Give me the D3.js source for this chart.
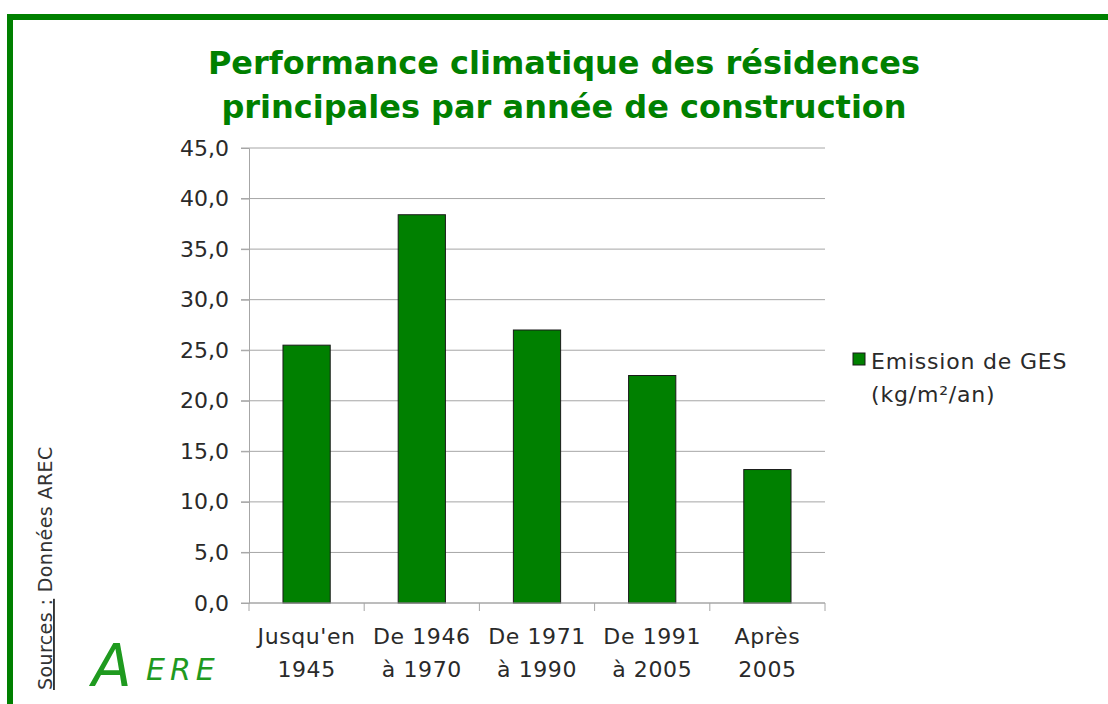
<!DOCTYPE html>
<html>
<head>
<meta charset="utf-8">
<script src="https://cdn.jsdelivr.net/npm/d3@7"></script>
<style>
  body { margin: 0; background: #fff; }
  text { font-family: "DejaVu Sans", sans-serif; }
</style>
</head>
<body>
<script>
// Chart data
var categories = ["Jusqu'en 1945", "De 1946 à 1970", "De 1971 à 1990", "De 1991 à 2005", "Après 2005"];
var catLines = [["Jusqu'en", "1945"], ["De 1946", "à 1970"], ["De 1971", "à 1990"], ["De 1991", "à 2005"], ["Après", "2005"]];
var emissions = [25.5, 38.4, 27.0, 22.5, 13.2];
var yTicks = [0, 5, 10, 15, 20, 25, 30, 35, 40, 45];
var titleLines = ["Performance climatique des résidences", "principales par année de construction"];
var legendLines = ["Emission de GES", "(kg/m²/an)"];

var width = 1108,
    height = 704;
var margin = {left: 249, right: 283, top: 148, bottom: 101};
var green = "#008000";
var ink = "#2a2a2a";

var svg = d3.select("body").append("svg")
    .attr("width", width)
    .attr("height", height);

// Green frame
svg.append("rect")
    .attr("x", 10).attr("y", 17)
    .attr("width", width + 20).attr("height", height + 20)
    .attr("fill", "none")
    .attr("stroke", green)
    .attr("stroke-width", 6);

// Title
svg.append("g").selectAll("text")
    .data(titleLines)
    .enter().append("text")
    .attr("x", 564)
    .attr("y", (d, i) => 74 + i * 44)
    .attr("text-anchor", "middle")
    .attr("fill", green)
    .attr("font-size", 32)
    .attr("font-weight", "bold")
    .text(d => d);

var x = d3.scaleBand()
    .domain(categories)
    .range([margin.left, width - margin.right])
    .paddingInner(0.59)
    .paddingOuter(0.295);

var y = d3.scaleLinear()
    .domain([0, 45])
    .range([height - margin.bottom, margin.top]);

// Gridlines
svg.append("g").selectAll("line")
    .data(yTicks)
    .enter().append("line")
    .attr("x1", margin.left - 8)
    .attr("x2", width - margin.right)
    .attr("y1", d => y(d))
    .attr("y2", d => y(d))
    .attr("stroke", "#a6a6a6")
    .attr("stroke-width", 1);

// Y axis
var yAxis = svg.append("g")
    .attr("transform", "translate(" + margin.left + ",0)")
    .call(d3.axisLeft(y).tickValues(yTicks).tickSize(8).tickPadding(12)
        .tickFormat(d => d3.format(".1f")(d).replace(".", ",")));
yAxis.select(".domain").attr("stroke", "#a6a6a6");
yAxis.selectAll(".tick line").attr("stroke", "#a6a6a6");
yAxis.selectAll(".tick text")
    .attr("font-size", 22)
    .attr("fill", ink)
    .attr("font-family", "DejaVu Sans, sans-serif");

// Bars
svg.append("g").selectAll("rect")
    .data(emissions)
    .enter().append("rect")
    .attr("x", (d, i) => x(categories[i]))
    .attr("y", d => y(d))
    .attr("width", x.bandwidth())
    .attr("height", d => y(0) - y(d))
    .attr("fill", green)
    .attr("stroke", "#1a1a1a")
    .attr("stroke-width", 1);

// X axis
var step = x.step();
var xAxisG = svg.append("g")
    .attr("transform", "translate(0," + y(0) + ")");
xAxisG.append("line")
    .attr("x1", margin.left).attr("x2", width - margin.right)
    .attr("stroke", "#a6a6a6");
xAxisG.selectAll(".tk")
    .data(d3.range(categories.length + 1))
    .enter().append("line")
    .attr("x1", i => margin.left + i * step)
    .attr("x2", i => margin.left + i * step)
    .attr("y1", 0).attr("y2", 8)
    .attr("stroke", "#a6a6a6");
xAxisG.selectAll(".lbl")
    .data(categories)
    .enter().append("text")
    .attr("text-anchor", "middle")
    .attr("font-size", 22)
    .attr("letter-spacing", 0.6)
    .attr("fill", ink)
    .attr("transform", d => "translate(" + (x(d) + x.bandwidth() / 2) + ",0)")
    .selectAll("tspan")
    .data((d, i) => catLines[i])
    .enter().append("tspan")
    .attr("x", 0)
    .attr("y", (d, j) => 41 + j * 33)
    .text(d => d);

// Legend
var legend = svg.append("g").attr("transform", "translate(853,353)");
legend.append("rect")
    .attr("width", 12).attr("height", 12)
    .attr("fill", green)
    .attr("stroke", "#1a1a1a");
legend.selectAll("text")
    .data(legendLines)
    .enter().append("text")
    .attr("x", 18)
    .attr("y", (d, i) => 16 + i * 33)
    .attr("font-size", 22)
    .attr("letter-spacing", 0.8)
    .attr("fill", ink)
    .text(d => d);

// Sources (rotated)
var src = svg.append("text")
    .attr("transform", "translate(52,690) rotate(-90)")
    .attr("font-size", 19)
    .attr("letter-spacing", 0.4)
    .attr("fill", "#333");
src.append("tspan").attr("text-decoration", "underline").text("Sources :");
src.append("tspan").text(" Données AREC");

// Logo
svg.append("text")
    .attr("x", 92).attr("y", 686)
    .attr("fill", "#1f9a1f")
    .attr("font-family", "DejaVu Serif, serif")
    .attr("font-style", "italic")
    .attr("font-size", 58)
    .text("A");
svg.append("text")
    .attr("x", 146).attr("y", 680)
    .attr("fill", "#1f9a1f")
    .attr("font-family", "DejaVu Serif, serif")
    .attr("font-style", "italic")
    .attr("font-size", 30)
    .attr("letter-spacing", 5)
    .text("ERE");
</script>
</body>
</html>
